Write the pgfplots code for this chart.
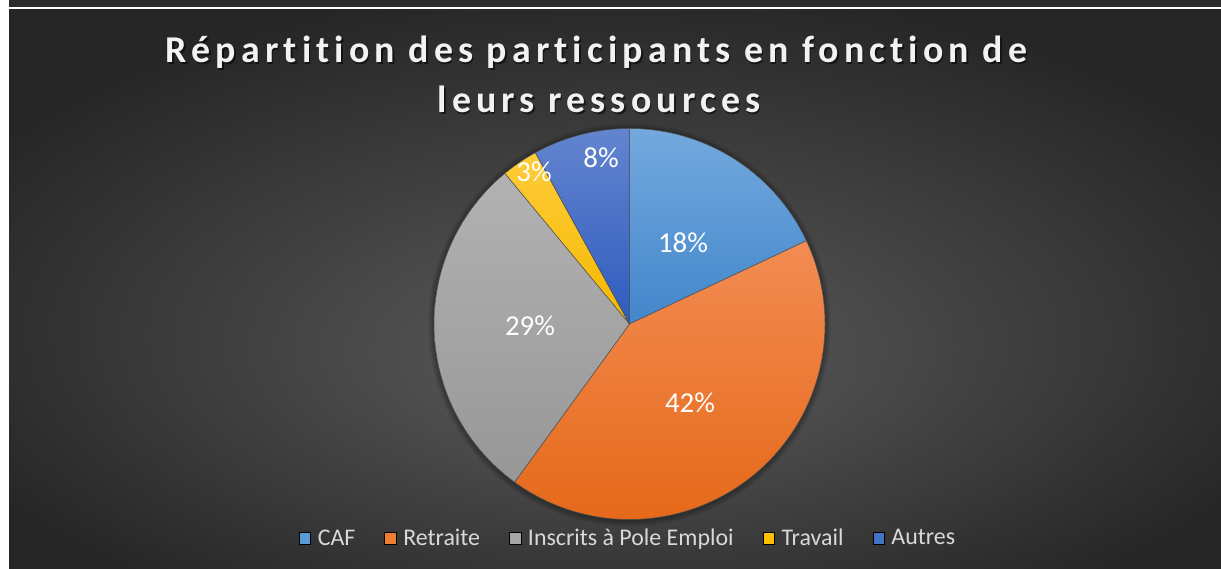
\documentclass[border=0pt]{standalone}
\usepackage{pgfplots}
\pgfplotsset{compat=1.18}
\usepackage{fontspec}
\setmainfont{Carlito}
\newfontfamily\titlefont{Carlito}[LetterSpace=13.5, Ligatures=NoCommon]
\definecolor{bgin}{HTML}{525252}
\definecolor{bgout}{HTML}{262626}
\definecolor{topband}{HTML}{2B2B2B}
\definecolor{cafC}{HTML}{5B9BD5}
\definecolor{cafT}{HTML}{74A9DE}
\definecolor{cafB}{HTML}{4286CB}
\definecolor{retC}{HTML}{ED7D31}
\definecolor{retT}{HTML}{F38C53}
\definecolor{retB}{HTML}{E5691A}
\definecolor{insC}{HTML}{A5A5A5}
\definecolor{insT}{HTML}{B2B2B2}
\definecolor{insB}{HTML}{979797}
\definecolor{traC}{HTML}{FFC000}
\definecolor{traT}{HTML}{FFCC3A}
\definecolor{traB}{HTML}{F4B800}
\definecolor{autC}{HTML}{4472C4}
\definecolor{autT}{HTML}{6385CF}
\definecolor{autB}{HTML}{2F5BBE}
\definecolor{edge}{HTML}{505050}
\definecolor{legtext}{HTML}{D9D9D9}
\pgfdeclareradialshading{bgshade}{\pgfpoint{0bp}{-7bp}}{color(0bp)=(bgin); color(6bp)=(bgin); color(30bp)=(bgout); color(50bp)=(bgout)}
% values (percent)
\def\vCAF{18}
\def\vRet{42}
\def\vIns{29}
\def\vTra{3}
\def\vAut{8}
\pgfmathsetmacro\aA{90-3.6*\vCAF}
\pgfmathsetmacro\aB{\aA-3.6*\vRet}
\pgfmathsetmacro\aC{\aB-3.6*\vIns}
\pgfmathsetmacro\aD{\aC-3.6*\vTra}
\pgfmathsetmacro\aE{\aD-3.6*\vAut}
\begin{document}
\begin{tikzpicture}[x=1bp,y=1bp]
\fill[white] (0,0) rectangle (1221,569);
\fill[topband] (9,562) rectangle (1221,569);
\shade[shading=bgshade] (9,0) rectangle (1221,559);
% soft shadow under the pie
\foreach \k in {1,...,6}{
  \fill[black, opacity=0.05] (629.5,244) circle[radius=195.5bp+\k bp];
}
\begin{axis}[at={(0,0)}, anchor=south west, scale only axis,
  width=1221bp, height=569bp, xmin=0, xmax=1221, ymin=0, ymax=569,
  hide axis, clip=false,
  legend image code/.code={\fill[#1] (0bp,-6bp) rectangle (11.5bp,6bp);},
  legend columns=5,
  legend style={at={(axis cs:627,31)}, anchor=center, draw=none, fill=none,
    text=legtext, font=\fontsize{24}{28}\selectfont,
    nodes={inner sep=0pt},
    /tikz/every odd column/.append style={column sep=7bp},
    /tikz/every even column/.append style={column sep=29bp}},
]
\addplot[draw=edge, line width=0.5bp, top color=cafT, bottom color=cafB, domain=\aA:90, samples=60, forget plot]
  ({629.5+195.5*cos(x)},{245+195.5*sin(x)}) -- (axis cs:629.5,245) -- cycle;
\addplot[draw=edge, line width=0.5bp, top color=retT, bottom color=retB, domain=\aB:\aA, samples=90, forget plot]
  ({629.5+195.5*cos(x)},{245+195.5*sin(x)}) -- (axis cs:629.5,245) -- cycle;
\addplot[draw=edge, line width=0.5bp, top color=insT, bottom color=insB, domain=\aC:\aB, samples=80, forget plot]
  ({629.5+195.5*cos(x)},{245+195.5*sin(x)}) -- (axis cs:629.5,245) -- cycle;
\addplot[draw=edge, line width=0.5bp, top color=traT, bottom color=traB, domain=\aD:\aC, samples=20, forget plot]
  ({629.5+195.5*cos(x)},{245+195.5*sin(x)}) -- (axis cs:629.5,245) -- cycle;
\addplot[draw=edge, line width=0.5bp, top color=autT, bottom color=autB, domain=\aE:\aD, samples=30, forget plot]
  ({629.5+195.5*cos(x)},{245+195.5*sin(x)}) -- (axis cs:629.5,245) -- cycle;
\addlegendimage{fill=cafC}\addlegendentry{CAF}
\addlegendimage{fill=retC}\addlegendentry{Retraite}
\addlegendimage{fill=insC}\addlegendentry{Inscrits à Pole Emploi}
\addlegendimage{fill=traC}\addlegendentry{Travail}
\addlegendimage{fill=autC}\addlegendentry{Autres}
% data labels
\begin{scope}[every node/.style={text=white, font=\fontsize{29}{33}\selectfont, inner sep=0pt}]
\node at (axis cs:683,326) {18\%};
\node at (axis cs:690,166) {42\%};
\node at (axis cs:530,243) {29\%};
\node at (axis cs:534,397) {3\%};
\node at (axis cs:601,411) {8\%};
\end{scope}
% title
\begin{scope}[every node/.style={anchor=base, inner sep=0pt, font=\titlefont\bfseries\fontsize{38}{44}\selectfont}]
\node[text=black, opacity=0.55] at (axis cs:598,504.5) {Répartition des participants en fonction de};
\node[text=black, opacity=0.55] at (axis cs:600.5,454.5) {leurs ressources};
\node[text=white!95!black] at (axis cs:596.5,506) {Répartition des participants en fonction de};
\node[text=white!95!black] at (axis cs:599,456) {leurs ressources};
\end{scope}
\end{axis}
\end{tikzpicture}
\end{document}
